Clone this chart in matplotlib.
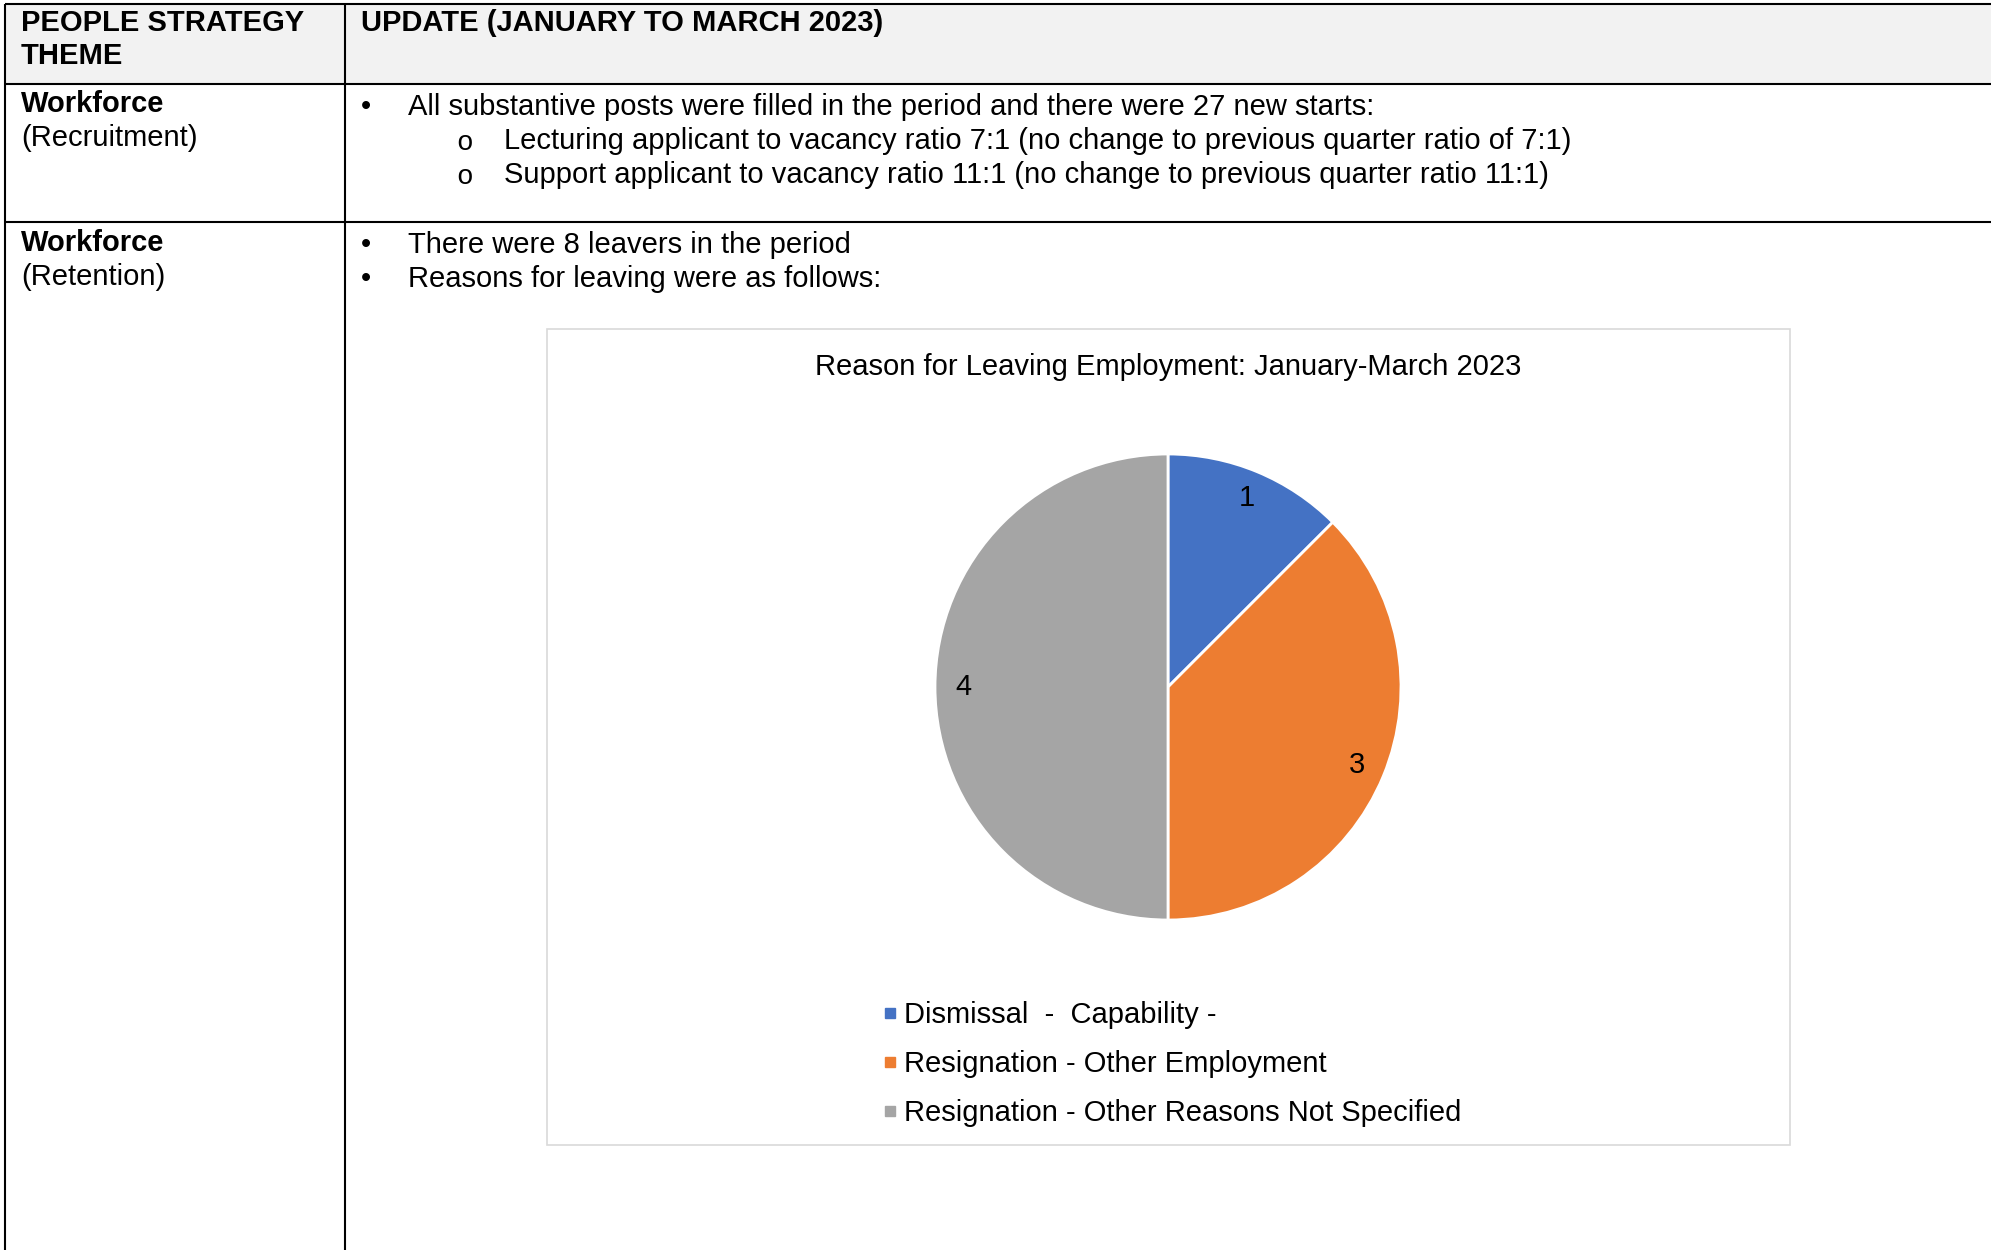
import matplotlib.pyplot as plt
from matplotlib.lines import Line2D
from matplotlib.patches import Rectangle

plt.rcParams["font.family"] = ["Liberation Sans", "DejaVu Sans"]

# page size in pixels (dpi 100)
W, H = 1991, 1250

# table text
header_left = "PEOPLE STRATEGY\nTHEME"
header_right = "UPDATE (JANUARY TO MARCH 2023)"
recruit_theme = ["Workforce", "(Recruitment)"]
recruit_main = "All substantive posts were filled in the period and there were 27 new starts:"
recruit_sub = [
    "Lecturing applicant to vacancy ratio 7:1 (no change to previous quarter ratio of 7:1)",
    "Support applicant to vacancy ratio 11:1 (no change to previous quarter ratio 11:1)",
]
retention_theme = ["Workforce", "(Retention)"]
retention_points = ["There were 8 leavers in the period", "Reasons for leaving were as follows:"]

# chart data
chart_title = "Reason for Leaving Employment: January-March 2023"
reasons = [
    "Dismissal  -  Capability -",
    "Resignation - Other Employment",
    "Resignation - Other Reasons Not Specified",
]
leavers = [1, 3, 4]
colours = ["#4472C4", "#ED7D31", "#A5A5A5"]

fs = 21

fig = plt.figure(figsize=(W / 100, H / 100), dpi=100)
fig.patch.set_facecolor("white")

# background axes in pixel coords for the table
ax0 = fig.add_axes([0, 0, 1, 1])
ax0.set_xlim(0, W)
ax0.set_ylim(H, 0)
ax0.axis("off")

ax0.add_patch(Rectangle((5, 4), W - 5, 80, facecolor="#f2f2f2", edgecolor="none"))

lw = 1.5
for y in [4, 84, 222]:
    ax0.plot([5, W], [y, y], color="black", lw=lw, solid_capstyle="butt")
for x in [5, 345]:
    ax0.plot([x, x], [4, H], color="black", lw=lw, solid_capstyle="butt")

# header
ax0.text(21, 31, header_left.split("\n")[0], fontsize=fs, fontweight="bold", va="baseline")
ax0.text(21, 64, header_left.split("\n")[1], fontsize=fs, fontweight="bold", va="baseline")
ax0.text(361, 31, header_right, fontsize=fs, fontweight="bold", va="baseline")

# recruitment row
ax0.text(21, 112, recruit_theme[0], fontsize=fs, fontweight="bold", va="baseline")
ax0.text(21, 146, recruit_theme[1], fontsize=fs, va="baseline")
ax0.text(366, 115, "\u2022", fontsize=fs, va="baseline", ha="center")
ax0.text(408, 115, recruit_main, fontsize=fs, va="baseline")
for i, line in enumerate(recruit_sub):
    yy = 149 + i * 34
    ax0.text(465, yy + 1, "o", fontsize=fs - 1, va="baseline", ha="center", family="Liberation Mono")
    ax0.text(504, yy, line, fontsize=fs, va="baseline")

# retention row
ax0.text(21, 251, retention_theme[0], fontsize=fs, fontweight="bold", va="baseline")
ax0.text(21, 285, retention_theme[1], fontsize=fs, va="baseline")
for i, line in enumerate(retention_points):
    yy = 253 + i * 34
    ax0.text(366, yy, "\u2022", fontsize=fs, va="baseline", ha="center")
    ax0.text(408, yy, line, fontsize=fs, va="baseline")

# chart area frame + title
ax0.add_patch(Rectangle((547, 329), 1243, 816, fill=False, edgecolor="#d9d9d9", lw=1.2))
ax0.text(1168, 367, chart_title, fontsize=fs, ha="center", va="center")

# pie
r = 233
cx, cy = 1168, 687
lim = 1.2
side = 2 * lim * r
axp = fig.add_axes([(cx - side / 2) / W, (H - cy - side / 2) / H, side / W, side / H])
wedges, _, autotexts = axp.pie(
    leavers,
    colors=colours,
    startangle=90,
    counterclock=False,
    autopct=lambda p: f"{p * sum(leavers) / 100:.0f}",
    pctdistance=0.88,
    wedgeprops=dict(edgecolor="white", linewidth=2),
    textprops=dict(fontsize=fs, color="black"),
)
axp.set_xlim(-lim, lim)
axp.set_ylim(-lim, lim)

handles = [
    Line2D([], [], marker="s", linestyle="none", markersize=7, markerfacecolor=c, markeredgecolor=c)
    for c in colours
]
fig.legend(
    handles,
    reasons,
    loc="upper left",
    bbox_to_anchor=(882 / W, 1 - 1001 / H),
    frameon=False,
    fontsize=fs,
    handlelength=0.55,
    handletextpad=0.2,
    labelspacing=0.72,
    borderpad=0,
    borderaxespad=0,
)

fig.savefig("out.png", dpi=100)
